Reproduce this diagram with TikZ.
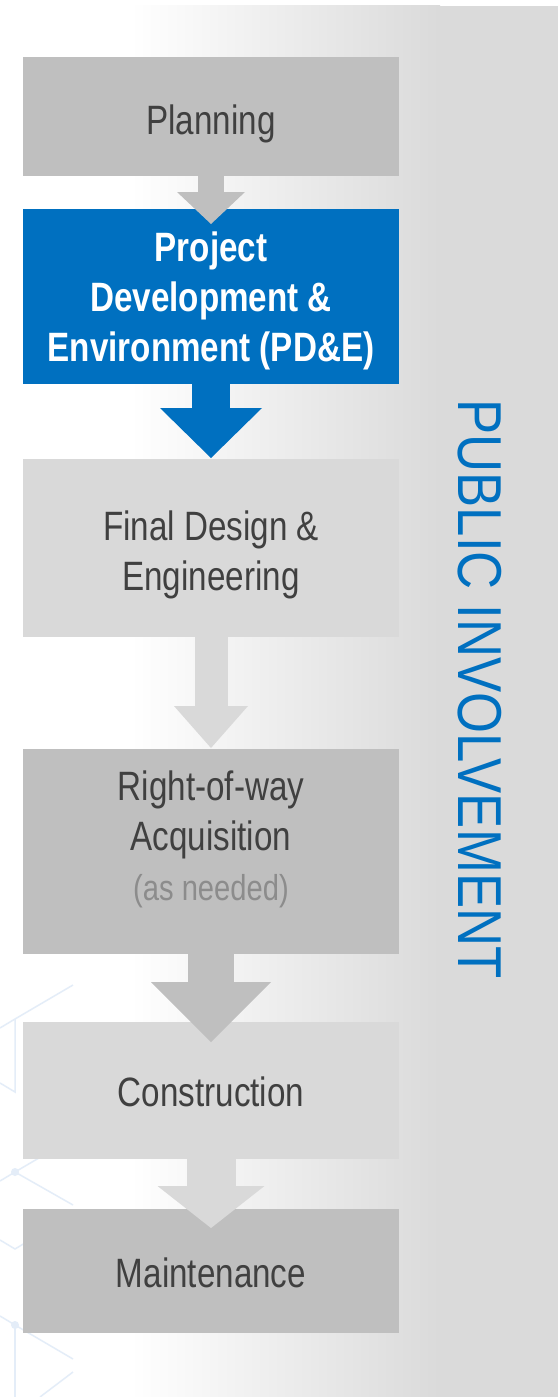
\documentclass[tikz,border=0pt]{standalone}
\usepackage{fontspec}
\setmainfont{Liberation Sans}
\newfontfamily\narrowfont[FakeStretch=0.81]{Liberation Sans}
\newfontfamily\sidefont[FakeStretch=0.85]{Liberation Sans}
\usetikzlibrary{arrows.meta}
\definecolor{pdeblue}{HTML}{0070C0}
\definecolor{darkbox}{HTML}{BFBFBF}
\definecolor{lightbox}{HTML}{D9D9D9}
\definecolor{boxtext}{HTML}{404040}
\definecolor{notetext}{HTML}{8C8C8C}
\definecolor{bggray}{HTML}{DADADA}
\definecolor{hexblue}{HTML}{E4EDF8}
\tikzset{flow/.style n args={3}{line width=#1pt, -{Triangle[width=#2pt 0, length=#3pt 0, line width=0pt 0 0]}}}

\begin{document}
\begin{tikzpicture}[x=1pt,y=-1pt]
	\tikzstyle{phase} = [minimum width=376pt, inner sep=0pt, align=center, text=boxtext, font=\narrowfont\fontsize{41}{50}\selectfont]
	\tikzstyle{hexline} = [hexblue, line width=1.5pt]
	\useasboundingbox (0,0) rectangle (558,1397);
	% background
	\fill [white] (0,0) rectangle (558,1397);
	\shade [left color=white, right color=bggray] (130,6) rectangle (440,1397);
	\fill [bggray] (440,6) rectangle (558,1397);
	% faint network in the corner
	\draw [hexline] (73,985) -- (15,1019) -- (0,1028);
	\draw [hexline] (15,1019) -- (15,1092) -- (0,1083);
	\draw [hexline] (73,1138) -- (15,1172) -- (73,1205);
	\draw [hexline] (15,1172) -- (0,1181);
	\draw [hexline] (0,1240) -- (15,1249) -- (40,1234);
	\draw [hexline] (0,1316) -- (15,1325) -- (73,1359);
	\draw [hexline] (15,1325) -- (15,1397);
	\draw [hexline] (73,1372) -- (40,1397);
	\fill [hexblue] (15,1172) circle (4);
	\fill [hexblue] (15,1325) circle (4);
	% phases
	\node [phase, fill=darkbox, minimum height=119pt] (plan) at (211,116.5) {};
	\node [phase, fill=pdeblue, minimum height=175pt] (pde) at (211,296.5) {};
	\node [phase, fill=lightbox, minimum height=178pt] (design) at (211,548) {};
	\node [phase, fill=darkbox, minimum height=205pt] (row) at (211,851.5) {};
	\node [phase, fill=lightbox, minimum height=137pt] (build) at (211,1090.5) {};
	\node [phase, fill=darkbox, minimum height=124pt] (maint) at (211,1271) {};
	% arrows between phases
	\coordinate (t1) at (211,224);
	\coordinate (t2) at (211,458);
	\coordinate (t3) at (211,748);
	\coordinate (t4) at (211,1042);
	\coordinate (t5) at (211,1228);
	\draw [flow={26}{68}{32}, darkbox] (plan.south) -- (t1);
	\draw [flow={38}{102}{50}, pdeblue] (pde.south) -- (t2);
	\draw [flow={33}{74}{42}, lightbox] (design.south) -- (t3);
	\draw [flow={46}{120}{60}, darkbox] (row.south) -- (t4);
	\draw [flow={49}{107}{42}, lightbox] (build.south) -- (t5);
	% texts (base = last line)
	\node [phase, anchor=base] (plantext) at (211,134) {Planning};
	\node [phase, anchor=base, text=white, font=\narrowfont\fontsize{41}{50}\selectfont\bfseries] (pdetext) at (211,361) {Project\\Development \&\\Environment (PD\&E)};
	\node [phase, anchor=base] (designtext) at (211,590) {Final Design \&\\Engineering};
	\node [phase, anchor=base] (rowtext) at (211,900) {Right-of-way\\Acquisition\\{\color{notetext}\fontsize{36}{45}\selectfont(as needed)}};
	\node [phase, anchor=base] (buildtext) at (211,1106) {Construction};
	\node [phase, anchor=base] (mainttext) at (211,1287) {Maintenance};
	% side label
	\node [rotate=-90, inner sep=0pt, text=pdeblue, font=\sidefont\fontsize{62}{66}\selectfont] (public) at (480,689) {PUBLIC INVOLVEMENT};
\end{tikzpicture}
\end{document}
